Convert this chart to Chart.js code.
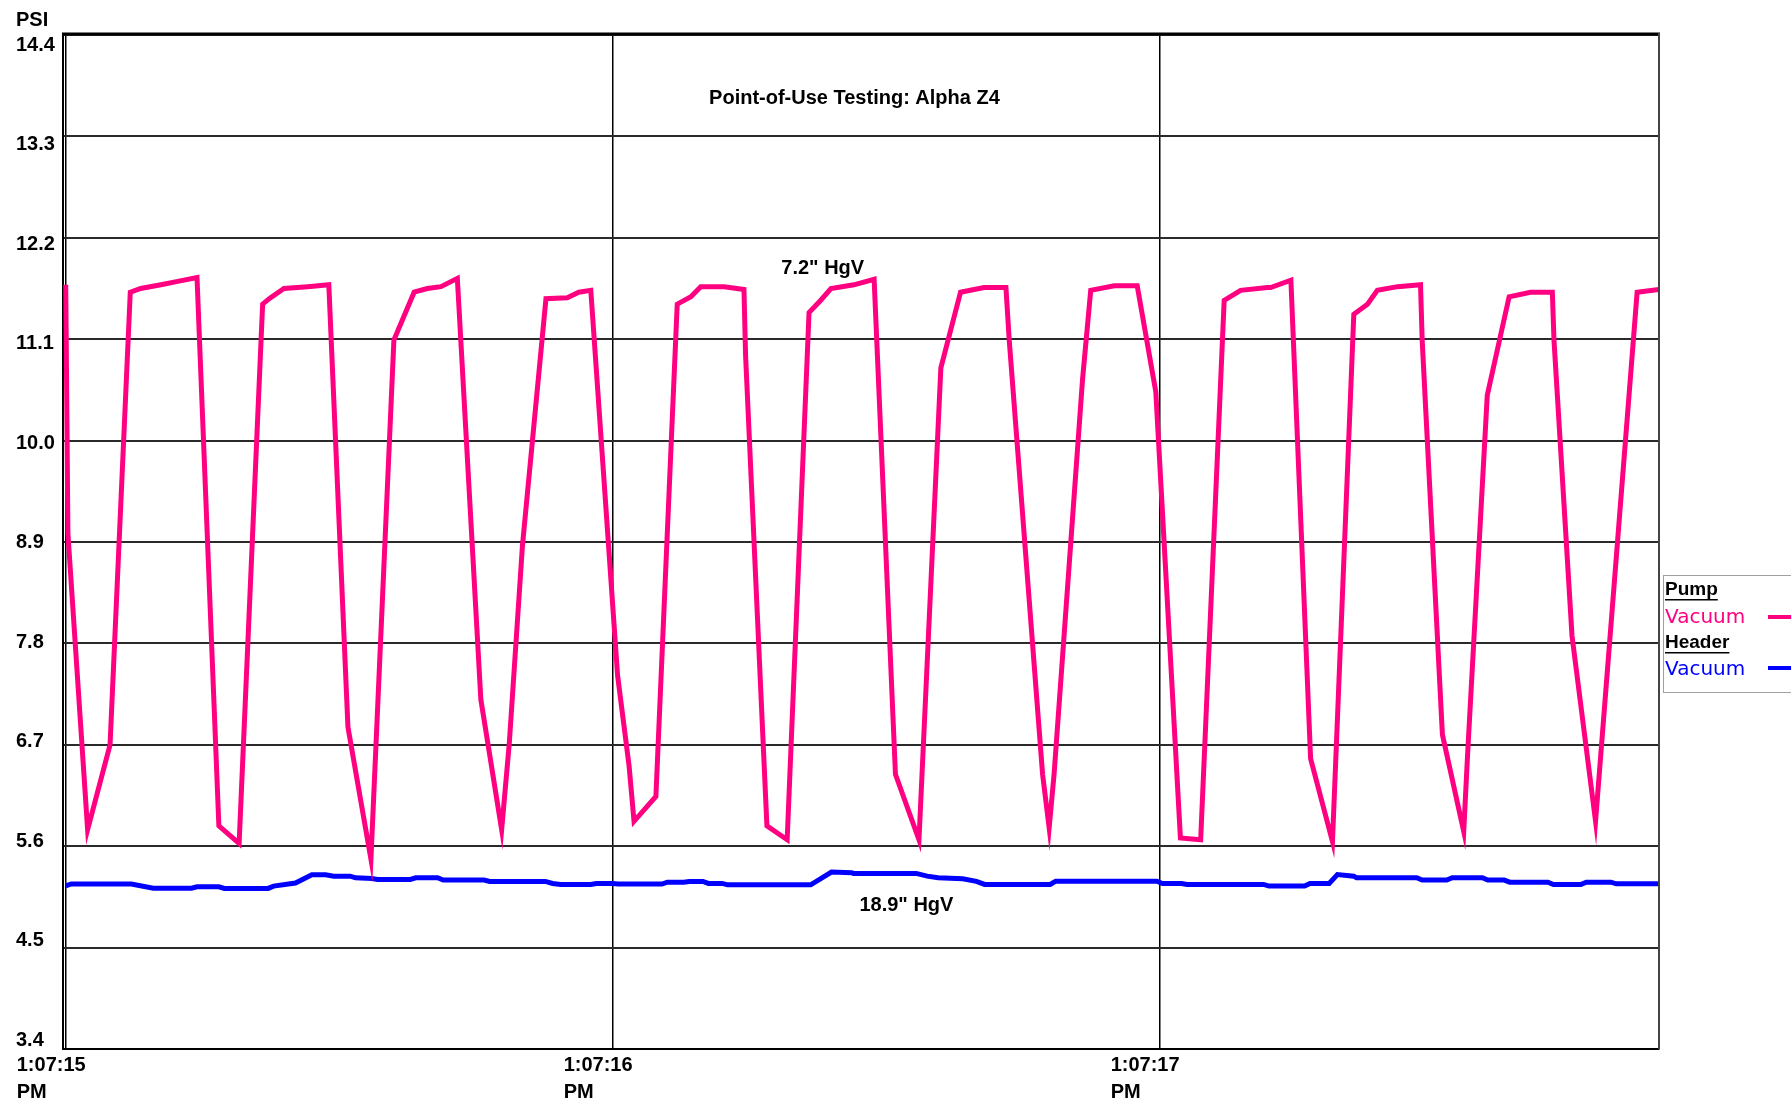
<!DOCTYPE html>
<html>
<head>
<meta charset="utf-8">
<title>Point-of-Use Testing: Alpha Z4</title>
<script src="https://cdn.jsdelivr.net/npm/chart.js@4.4.1/dist/chart.umd.min.js"></script>
<style>
  html, body { margin: 0; padding: 0; background: #fff; }
  #psiChart { display: block; }
</style>
</head>
<body>
<canvas id="psiChart" width="1791" height="1102"></canvas>
<script>
// time is seconds after 1:07:15 PM
var xTickValues = [0, 1, 2];
var xTickLabels = [['1:07:15', 'PM'], ['1:07:16', 'PM'], ['1:07:17', 'PM']];
var yTickValues = [3.4, 4.5, 5.6, 6.7, 7.8, 8.9, 10.0, 11.1, 12.2, 13.3, 14.4];

var pumpTime = [0.000, 0.004, 0.040, 0.081, 0.118, 0.137, 0.174, 0.207, 0.240, 0.280, 0.317,
    0.360, 0.372, 0.399, 0.442, 0.481, 0.516, 0.558, 0.600, 0.637, 0.661, 0.686, 0.716,
    0.759, 0.797, 0.811, 0.835, 0.878, 0.917, 0.938, 0.960, 1.009, 1.030, 1.039, 1.079,
    1.118, 1.143, 1.161, 1.204, 1.240, 1.243, 1.282, 1.319, 1.359, 1.380, 1.399, 1.441,
    1.478, 1.517, 1.560, 1.600, 1.636, 1.679, 1.719, 1.725, 1.786, 1.798, 1.807, 1.859,
    1.874, 1.917, 1.959, 1.993, 2.038, 2.075, 2.118, 2.148, 2.197, 2.203, 2.240, 2.276,
    2.316, 2.355, 2.380, 2.398, 2.435, 2.477, 2.480, 2.517, 2.556, 2.563, 2.599, 2.639,
    2.678, 2.718, 2.721, 2.754, 2.797, 2.873, 2.913];
var pumpPsi = [11.69, 8.99, 5.78, 6.70, 11.61, 11.65, 11.69, 11.73, 11.77, 5.82, 5.63,
    11.48, 11.54, 11.65, 11.67, 11.69, 6.89, 5.46, 11.09, 11.61, 11.65, 11.67, 11.76,
    7.19, 5.78, 6.72, 8.86, 11.54, 11.55, 11.61, 11.63, 7.45, 6.47, 5.87, 6.14,
    11.48, 11.56, 11.67, 11.67, 11.64, 10.92, 5.82, 5.67, 11.39, 11.52, 11.65, 11.69,
    11.75, 6.38, 5.67, 10.79, 11.61, 11.66, 11.66, 11.09, 6.38, 5.80, 6.38, 10.66,
    11.63, 11.68, 11.68, 10.53, 5.69, 5.67, 11.52, 11.63, 11.66, 11.66, 11.74, 6.55,
    5.65, 11.37, 11.48, 11.63, 11.67, 11.69, 11.09, 6.81, 5.76, 6.59, 10.49, 11.56,
    11.61, 11.61, 11.09, 7.88, 5.87, 11.61, 11.64];

var headerTime = [0.000, 0.010, 0.120, 0.160, 0.230, 0.240, 0.280, 0.290, 0.370, 0.380, 0.420,
    0.450, 0.475, 0.490, 0.520, 0.530, 0.560, 0.570, 0.630, 0.640, 0.680, 0.690, 0.765,
    0.775, 0.877, 0.890, 0.905, 0.960, 0.970, 1.000, 1.010, 1.090, 1.100, 1.130, 1.140,
    1.165, 1.175, 1.200, 1.210, 1.362, 1.400, 1.437, 1.440, 1.555, 1.575, 1.595, 1.640,
    1.665, 1.680, 1.800, 1.810, 1.995, 2.005, 2.040, 2.050, 2.190, 2.200, 2.265, 2.275,
    2.310, 2.325, 2.355, 2.360, 2.470, 2.480, 2.525, 2.535, 2.590, 2.600, 2.630, 2.640,
    2.710, 2.720, 2.770, 2.780, 2.825, 2.835, 2.913];
var headerPsi = [5.17, 5.19, 5.19, 5.145, 5.145, 5.16, 5.16, 5.142, 5.142, 5.167, 5.20,
    5.29, 5.29, 5.275, 5.275, 5.257, 5.25, 5.24, 5.24, 5.257, 5.257, 5.232, 5.232,
    5.218, 5.218, 5.196, 5.185, 5.185, 5.196, 5.196, 5.19, 5.19, 5.21, 5.21, 5.218,
    5.218, 5.196, 5.196, 5.181, 5.181, 5.319, 5.312, 5.305, 5.305, 5.275, 5.257, 5.246,
    5.218, 5.185, 5.185, 5.221, 5.221, 5.196, 5.196, 5.185, 5.185, 5.167, 5.167, 5.196,
    5.196, 5.293, 5.275, 5.257, 5.257, 5.232, 5.232, 5.257, 5.257, 5.232, 5.232, 5.210,
    5.210, 5.185, 5.185, 5.210, 5.210, 5.192, 5.192];

var notes = [
    { text: 'Point-of-Use Testing: Alpha Z4', t: 1.442, psi: 13.71 },
    { text: '7.2" HgV', t: 1.384, psi: 11.87 },
    { text: '18.9" HgV', t: 1.537, psi: 4.96 }
];

var PINK = '#ff0080';
var BLUE = '#0000ff';
var BOLD = 'bold 20px "Liberation Sans", Arial, sans-serif';

function toPoints(xs, ys) {
    return xs.map(function(x, i) { return { x: x, y: ys[i] }; });
}

// text, borders and legend that are not part of a normal Chart.js layout
var extras = {
    id: 'extras',
    afterDraw: function(chart) {
        var ctx = chart.ctx;
        var area = chart.chartArea;
        var xs = chart.scales.x, ys = chart.scales.y;
        ctx.save();

        // frame: heavy top edge, grey right edge
        ctx.strokeStyle = '#000';
        ctx.lineWidth = 3;
        ctx.beginPath();
        ctx.moveTo(area.left - 1, area.top - 1);
        ctx.lineTo(area.right + 1, area.top - 1);
        ctx.stroke();
        ctx.strokeStyle = '#444';
        ctx.lineWidth = 2;
        ctx.beginPath();
        ctx.moveTo(area.right, area.top - 2);
        ctx.lineTo(area.right, area.bottom);
        ctx.stroke();

        // y tick labels (the old program spaces them a bit tighter than the grid)
        ctx.fillStyle = '#000';
        ctx.font = BOLD;
        ctx.textAlign = 'left';
        ctx.textBaseline = 'middle';
        ys.ticks.forEach(function(tk) {
            var py = ys.getPixelForValue(tk.value);
            var ly = area.top + 10 + (py - area.top) * 0.9815;
            ctx.fillText(tk.value.toFixed(1), 16, ly);
        });
        ctx.fillText('PSI', 16, 20);

        // notes inside the plot
        ctx.textAlign = 'center';
        notes.forEach(function(n) {
            ctx.fillText(n.text, xs.getPixelForValue(n.t), ys.getPixelForValue(n.psi));
        });

        // legend box
        var lx = area.right + 4;
        ctx.strokeStyle = '#a0a0a0';
        ctx.lineWidth = 1;
        ctx.strokeRect(lx + 0.5, 575.5, 200, 117);
        var rows = [
            { text: 'Pump', bold: true, color: '#000', y: 595 },
            { text: 'Vacuum', color: PINK, y: 623, line: 617 },
            { text: 'Header', bold: true, color: '#000', y: 648 },
            { text: 'Vacuum', color: BLUE, y: 675, line: 668 }
        ];
        ctx.textAlign = 'left';
        ctx.textBaseline = 'alphabetic';
        rows.forEach(function(r) {
            ctx.font = r.bold ? 'bold 19px "Liberation Sans", Arial, sans-serif'
                              : '20px "DejaVu Sans", sans-serif';
            ctx.fillStyle = r.color;
            ctx.fillText(r.text, lx + 2, r.y);
            if (r.bold) {
                var w = ctx.measureText(r.text).width;
                ctx.fillRect(lx + 2, r.y + 4, w, 1.5);
            }
            if (r.line) {
                ctx.strokeStyle = r.color;
                ctx.lineWidth = 4;
                ctx.beginPath();
                ctx.moveTo(lx + 105, r.line);
                ctx.lineTo(chart.width, r.line);
                ctx.stroke();
            }
        });
        ctx.restore();
    }
};

window.onload = function() {
    var ctx = document.getElementById('psiChart').getContext('2d');
    var psiChart = new Chart(ctx, {
        type: 'line',
        data: {
            datasets: [{
                label: 'Pump Vacuum',
                data: toPoints(pumpTime, pumpPsi),
                borderColor: PINK,
                borderWidth: 5,
                pointRadius: 0,
                tension: 0
            }, {
                label: 'Header Vacuum',
                data: toPoints(headerTime, headerPsi),
                borderColor: BLUE,
                borderWidth: 5,
                pointRadius: 0,
                tension: 0
            }]
        },
        options: {
            responsive: false,
            animation: false,
            devicePixelRatio: 1,
            layout: { padding: { left: 0, top: 35, right: 132, bottom: 0 } },
            plugins: {
                legend: { display: false },
                tooltip: { enabled: false }
            },
            scales: {
                x: {
                    type: 'linear',
                    min: -0.005,
                    max: 2.913,
                    afterBuildTicks: function(scale) {
                        scale.ticks = xTickValues.map(function(v) { return { value: v }; });
                    },
                    afterFit: function(scale) { scale.height = 53; },
                    grid: { color: '#000', lineWidth: 1.5, drawTicks: false },
                    border: { color: '#000', width: 2 },
                    ticks: {
                        color: '#000',
                        font: { family: '"Liberation Sans", Arial, sans-serif', size: 20, weight: 'bold', lineHeight: 1.35 },
                        align: 'start',
                        labelOffset: -49,
                        padding: 3,
                        maxRotation: 0,
                        autoSkip: false,
                        callback: function(value, index) { return xTickLabels[index]; }
                    }
                },
                y: {
                    min: 3.4,
                    max: 14.4,
                    afterBuildTicks: function(scale) {
                        scale.ticks = yTickValues.map(function(v) { return { value: v }; });
                    },
                    afterFit: function(scale) { scale.width = 63; },
                    grid: { color: '#2a2a2a', lineWidth: 2, drawTicks: false },
                    border: { color: '#000', width: 2 },
                    ticks: { display: false }
                }
            }
        },
        plugins: [extras]
    });
};
</script>
</body>
</html>
